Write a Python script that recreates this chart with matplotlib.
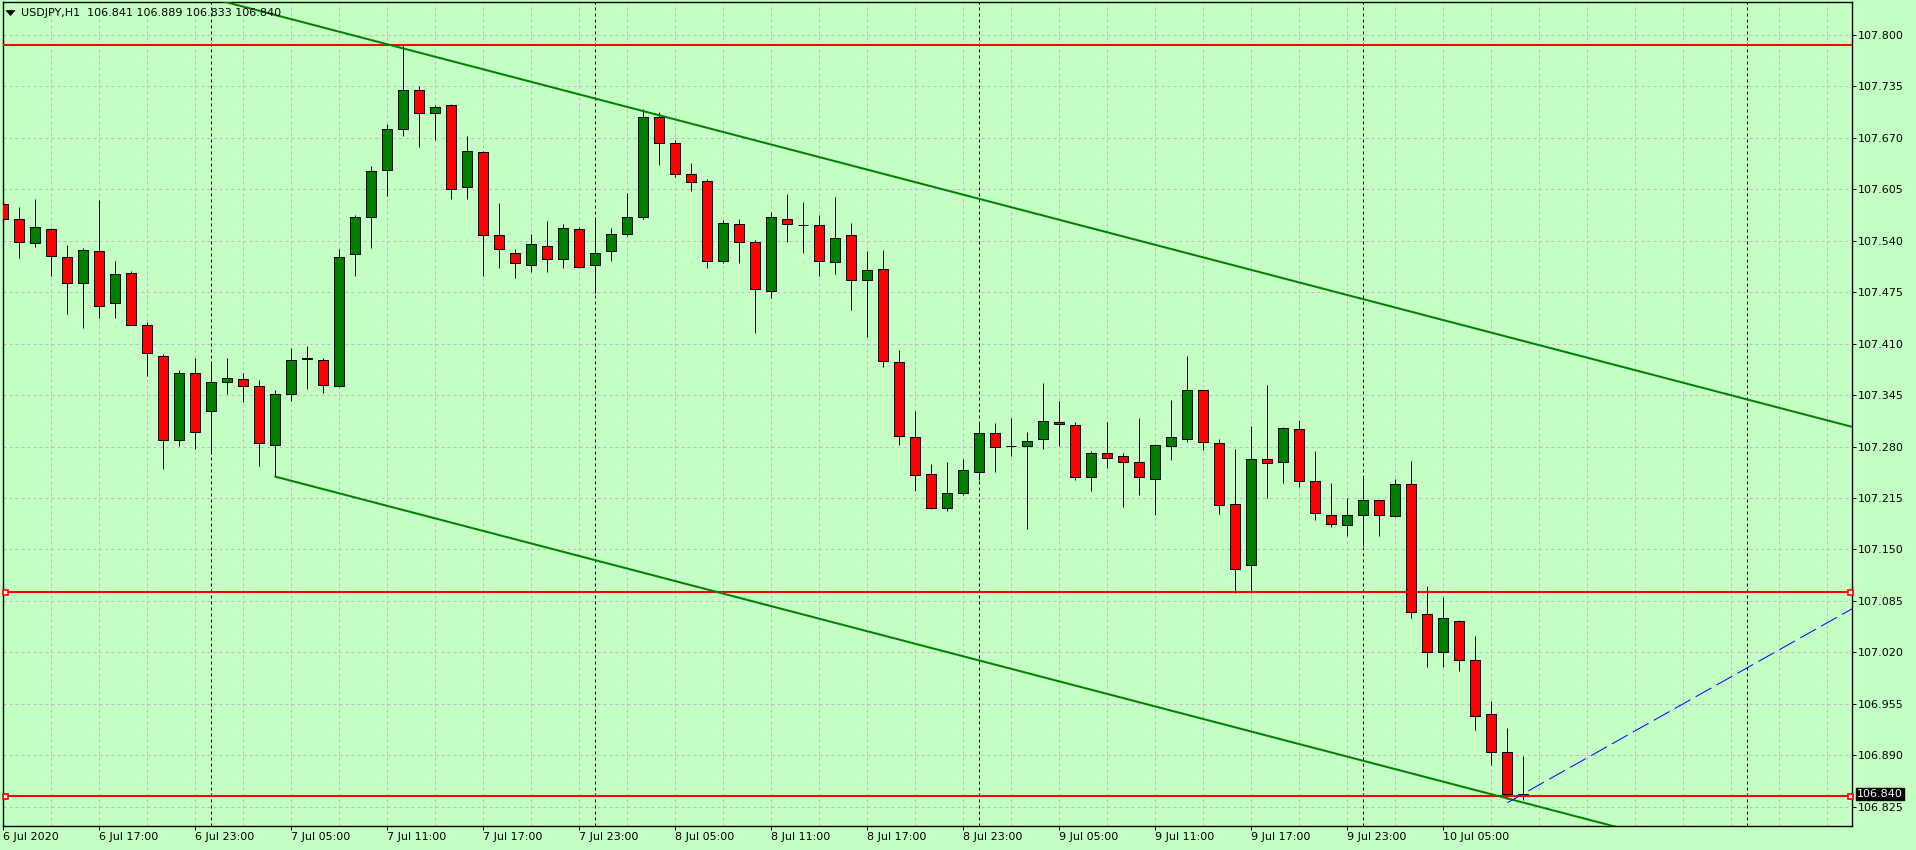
import numpy as np
import pandas as pd
import matplotlib
matplotlib.use("Agg")
import matplotlib.pyplot as plt
from matplotlib.patches import Polygon

# USDJPY H1 candles, 6 Jul 2020 11:00 .. 10 Jul 2020 10:00
symbol = "USDJPY,H1"
start_time = "2020-07-06 11:00"

opens = [107.587, 107.568, 107.537, 107.555, 107.520, 107.487, 107.527, 107.462, 107.499, 107.434,
         107.395, 107.288, 107.373, 107.325, 107.362, 107.365, 107.356, 107.282, 107.347, 107.391,
         107.390, 107.357, 107.523, 107.570, 107.630, 107.681, 107.730, 107.702, 107.711, 107.608,
         107.652, 107.547, 107.524, 107.510, 107.534, 107.517, 107.555, 107.509, 107.527, 107.548,
         107.570, 107.696, 107.663, 107.625, 107.615, 107.514, 107.561, 107.539, 107.477, 107.568,
         107.560, 107.560, 107.513, 107.547, 107.491, 107.504, 107.387, 107.292, 107.245, 107.202,
         107.221, 107.248, 107.297, 107.281, 107.281, 107.289, 107.311, 107.307, 107.242, 107.272,
         107.268, 107.261, 107.239, 107.281, 107.289, 107.351, 107.285, 107.207, 107.130, 107.264,
         107.261, 107.302, 107.237, 107.193, 107.181, 107.193, 107.212, 107.192, 107.233, 107.068,
         107.020, 107.060, 107.010, 106.942, 106.894, 106.841]
highs = [107.611, 107.583, 107.593, 107.556, 107.535, 107.531, 107.592, 107.514, 107.502, 107.437,
         107.397, 107.377, 107.392, 107.387, 107.392, 107.373, 107.364, 107.352, 107.404, 107.407,
         107.392, 107.529, 107.572, 107.635, 107.688, 107.788, 107.736, 107.712, 107.713, 107.672,
         107.653, 107.588, 107.530, 107.548, 107.565, 107.561, 107.557, 107.568, 107.556, 107.601,
         107.707, 107.703, 107.667, 107.638, 107.618, 107.566, 107.567, 107.541, 107.576, 107.599,
         107.589, 107.572, 107.595, 107.562, 107.527, 107.528, 107.402, 107.325, 107.258, 107.261,
         107.264, 107.311, 107.310, 107.316, 107.298, 107.360, 107.338, 107.311, 107.274, 107.311,
         107.272, 107.316, 107.283, 107.339, 107.394, 107.352, 107.289, 107.277, 107.306, 107.358,
         107.305, 107.314, 107.274, 107.234, 107.215, 107.243, 107.213, 107.239, 107.262, 107.104,
         107.090, 107.061, 107.041, 106.959, 106.924, 106.889]
lows = [107.539, 107.518, 107.532, 107.496, 107.448, 107.430, 107.443, 107.443, 107.433, 107.369,
        107.252, 107.281, 107.277, 107.270, 107.346, 107.336, 107.256, 107.242, 107.337, 107.353,
        107.348, 107.355, 107.495, 107.531, 107.596, 107.672, 107.659, 107.667, 107.593, 107.593,
        107.495, 107.506, 107.493, 107.501, 107.500, 107.505, 107.505, 107.474, 107.515, 107.546,
        107.568, 107.636, 107.620, 107.603, 107.506, 107.512, 107.512, 107.423, 107.468, 107.539,
        107.525, 107.495, 107.498, 107.452, 107.418, 107.381, 107.282, 107.224, 107.201, 107.199,
        107.219, 107.238, 107.248, 107.268, 107.176, 107.277, 107.281, 107.238, 107.224, 107.253,
        107.204, 107.219, 107.194, 107.263, 107.286, 107.276, 107.195, 107.095, 107.095, 107.215,
        107.234, 107.229, 107.187, 107.179, 107.167, 107.155, 107.167, 107.191, 107.063, 107.002,
        107.002, 106.997, 106.922, 106.878, 106.835, 106.833]
closes = [107.568, 107.538, 107.558, 107.521, 107.487, 107.528, 107.457, 107.498, 107.434, 107.398,
          107.288, 107.373, 107.299, 107.362, 107.367, 107.356, 107.284, 107.346, 107.390, 107.392,
          107.358, 107.520, 107.570, 107.628, 107.681, 107.730, 107.701, 107.709, 107.606, 107.653,
          107.547, 107.529, 107.512, 107.536, 107.517, 107.556, 107.507, 107.525, 107.549, 107.570,
          107.697, 107.663, 107.625, 107.614, 107.515, 107.562, 107.539, 107.479, 107.570, 107.561,
          107.560, 107.514, 107.544, 107.491, 107.503, 107.388, 107.293, 107.244, 107.202, 107.221,
          107.250, 107.297, 107.280, 107.281, 107.287, 107.312, 107.308, 107.242, 107.272, 107.266,
          107.261, 107.241, 107.282, 107.292, 107.351, 107.286, 107.206, 107.125, 107.264, 107.259,
          107.303, 107.237, 107.196, 107.182, 107.193, 107.212, 107.193, 107.233, 107.071, 107.020,
          107.063, 107.010, 106.939, 106.894, 106.841, 106.840]

# chart objects
levels = [107.788, 107.0965, 106.8385]
level_selected = [False, True, True]
bid = 106.840
upper_channel = [(25, 107.783), (100, 107.387)]
lower_channel = [(17, 107.242), (92, 106.846)]
blue_ray = [(94, 106.830), (110, 107.012)]

y_ticks = [107.800, 107.735, 107.670, 107.605, 107.540, 107.475, 107.410, 107.345,
           107.280, 107.215, 107.150, 107.085, 107.020, 106.955, 106.890, 106.825]

bg = "#C4FFC4"
grid_color = "#C8B4C8"
bull = "#008000"
bear = "#FF0000"
px = 0.72  # one pixel in points at dpi 100

plt.rcParams["font.family"] = "DejaVu Sans"
fig = plt.figure(figsize=(19.16, 8.5), dpi=100, facecolor=bg)
ax = fig.add_axes([3 / 1916, 24 / 850, 1849 / 1916, 824 / 850], facecolor=bg)

n = len(opens)
x = np.arange(n)
x_max = 115.54
ax.set_xlim(-0.025, x_max)
ax.set_ylim(106.8006, 107.8417)

t0 = pd.Timestamp(start_time)
times = [t0 + pd.Timedelta(hours=int(i)) for i in range(int(x_max) + 1)]

# grid
for xv in range(0, int(x_max) + 1, 3):
    ax.axvline(xv, color=grid_color, lw=px, dashes=(3, 3), zorder=0)
for yv in y_ticks:
    ax.axhline(yv, color=grid_color, lw=px, dashes=(3, 3), zorder=0)

# day separators
for i, t in enumerate(times):
    if t.hour == 0:
        ax.axvline(i, color="black", lw=px, dashes=(3, 3), zorder=1)

# candles
o = np.array(opens)
c = np.array(closes)
colors = [bull if cc > oo else bear for oo, cc in zip(o, c)]
ax.vlines(x, lows, highs, color="black", lw=px, zorder=2)
ax.bar(x, np.abs(c - o), bottom=np.minimum(o, c), width=0.62, color=colors,
       edgecolor="black", linewidth=px, zorder=3)

# bid line
ax.axhline(bid, color="#C0C0C0", lw=px, zorder=3.5)

# horizontal levels
for lvl, sel in zip(levels, level_selected):
    ax.axhline(lvl, color="#FF0000", lw=2 * px, zorder=4)
    if sel:
        ax.plot([0.12, x_max - 0.15], [lvl, lvl], "s", ms=3.6, mfc="white",
                mec="#FF0000", mew=1.2, zorder=6, clip_on=False)


def ray(points, x_start):
    (x1, y1), (x2, y2) = points
    k = (y2 - y1) / (x2 - x1)
    xs = np.array([x_start, x_max + 1])
    return xs, y1 + k * (xs - x1)


xs, ys = ray(upper_channel, 0)
ax.plot(xs, ys, color=bull, lw=2 * px, zorder=5)
xs, ys = ray(lower_channel, lower_channel[0][0])
ax.plot(xs, ys, color=bull, lw=2 * px, zorder=5)
xs, ys = ray(blue_ray, blue_ray[0][0])
ax.plot(xs, ys, color="#0000FF", lw=px, dashes=(18, 6), zorder=5)

# axes styling
for sp in ax.spines.values():
    sp.set_color("black")
    sp.set_linewidth(1)

ax.yaxis.tick_right()
ax.set_yticks(y_ticks)
ax.set_yticklabels([f"{v:.3f}" for v in y_ticks])
ax.tick_params(axis="y", direction="out", length=3, width=px, pad=1.5,
               labelsize=8, colors="black")

label_bars = list(range(0, n, 6))
labels = []
for i in label_bars:
    t = times[i]
    if i == 0:
        labels.append(f"{t.day} {t:%b %Y}")
    else:
        labels.append(f"{t.day} {t:%b %H:%M}")
ax.set_xticks(label_bars)
ax.set_xticklabels(labels)
for lbl in ax.get_xticklabels():
    lbl.set_ha("left")
ax.tick_params(axis="x", direction="out", length=3, width=px, pad=1,
               labelsize=8, colors="black")

# header
fig.patches.append(Polygon([(6 / 1916, 1 - 10.5 / 850), (15 / 1916, 1 - 10.5 / 850),
                            (10.5 / 1916, 1 - 15.5 / 850)], closed=True,
                           transform=fig.transFigure, fc="black", ec="black", lw=0.5))
fig.text(21 / 1916, 1 - 13 / 850,
         f"{symbol}  {opens[-1]:.3f} {highs[-1]:.3f} {lows[-1]:.3f} {closes[-1]:.3f}",
         fontsize=8, va="center", ha="left", color="black")

# bid price label
fig.text(1857 / 1916, 1 - 794 / 850, f"{bid:.3f}", fontsize=8, va="center", ha="left",
         color="white", bbox=dict(boxstyle="square,pad=0.12", fc="black", ec="black"))

fig.savefig("out.png", dpi=100, facecolor=bg)
